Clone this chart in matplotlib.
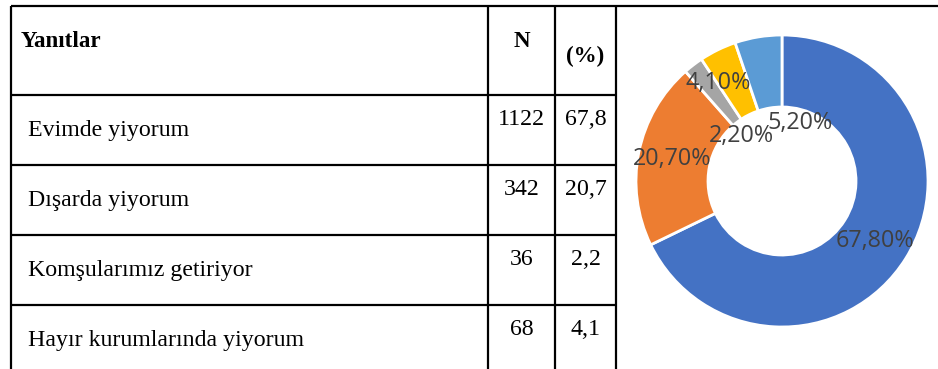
import numpy as np
import matplotlib
matplotlib.use('Agg')
import matplotlib.pyplot as plt

# Données du tableau
yanitlar = ['Evimde yiyorum', 'Dışarda yiyorum', 'Komşularımız getiriyor', 'Hayır kurumlarında yiyorum']
n_values = [1122, 342, 36, 68]
pct_table = ['67,8', '20,7', '2,2', '4,1']

# Données du graphique en anneau (ordre horaire depuis le haut)
donut_pct = [67.8, 20.7, 2.2, 4.1, 5.2]
donut_colors = ['#4472C4', '#ED7D31', '#A5A5A5', '#FFC000', '#5B9BD5']

W, H = 938, 369
fig = plt.figure(figsize=(W / 100, H / 100), dpi=100)

# Axe plein cadre en pixels pour le tableau
tab = fig.add_axes([0, 0, 1, 1])
tab.set_xlim(0, W)
tab.set_ylim(H, 0)
tab.axis('off')

serif = 'Liberation Serif'
lw = 1.6
col_x = [11, 488, 555, 616]
row_y = [95, 165, 235, 305]

tab.plot([col_x[0], W], [5.5, 5.5], color='black', lw=lw, solid_capstyle='butt')
for x in col_x:
    tab.plot([x, x], [5.5, H], color='black', lw=lw, solid_capstyle='butt')
for y in row_y:
    tab.plot([col_x[0], col_x[-1]], [y, y], color='black', lw=lw, solid_capstyle='butt')

# En-têtes
tab.text(21, 47, 'Yanıtlar', family=serif, fontweight='bold', fontsize=16.6, va='baseline')
tab.text((col_x[1] + col_x[2]) / 2, 47, 'N', family=serif, fontweight='bold', fontsize=16.6,
         ha='center', va='baseline')
tab.text((col_x[2] + col_x[3]) / 2, 62, '(%)', family=serif, fontweight='bold', fontsize=16.6,
         ha='center', va='baseline')

# Lignes du tableau
for i, (lab, n, p) in enumerate(zip(yanitlar, n_values, pct_table)):
    top = row_y[i]
    tab.text(28, top + 41, lab, family=serif, fontsize=17.2, va='baseline')
    tab.text((col_x[1] + col_x[2]) / 2, top + 30, str(n), family=serif, fontsize=17.2,
             ha='center', va='baseline')
    tab.text((col_x[2] + col_x[3]) / 2, top + 30, p, family=serif, fontsize=17.2,
             ha='center', va='baseline')

# Graphique en anneau
cx, cy, half = 782, 181, 150
ax = fig.add_axes([(cx - half) / W, (H - cy - half) / H, 2 * half / W, 2 * half / H])

R = 146
wedges, _ = ax.pie(donut_pct, colors=donut_colors, radius=R, startangle=90, counterclock=False,
                   wedgeprops=dict(width=72, edgecolor='white', linewidth=2))
# pie() remet les limites à ±1.25, on les fixe après
ax.set_xlim(-half, half)
ax.set_ylim(-half, half)
ax.set_aspect('equal')
ax.axis('off')

# Position des étiquettes (rayon, décalage angulaire) comme dans l'original
label_r = [110, 112, 62, 118, 62]
label_da = [0, -1, 3.6, 6.8, -26.4]
for w, v, r, da in zip(wedges, donut_pct, label_r, label_da):
    ang = np.deg2rad((w.theta1 + w.theta2) / 2 + da)
    txt = f'{v:.2f}'.replace('.', ',') + '%'
    ax.text(r * np.cos(ang), r * np.sin(ang) - 1.5, txt, family='Open Sans', fontsize=16.8,
            color='#404040', ha='center', va='center')

fig.savefig('out.png', dpi=100)
